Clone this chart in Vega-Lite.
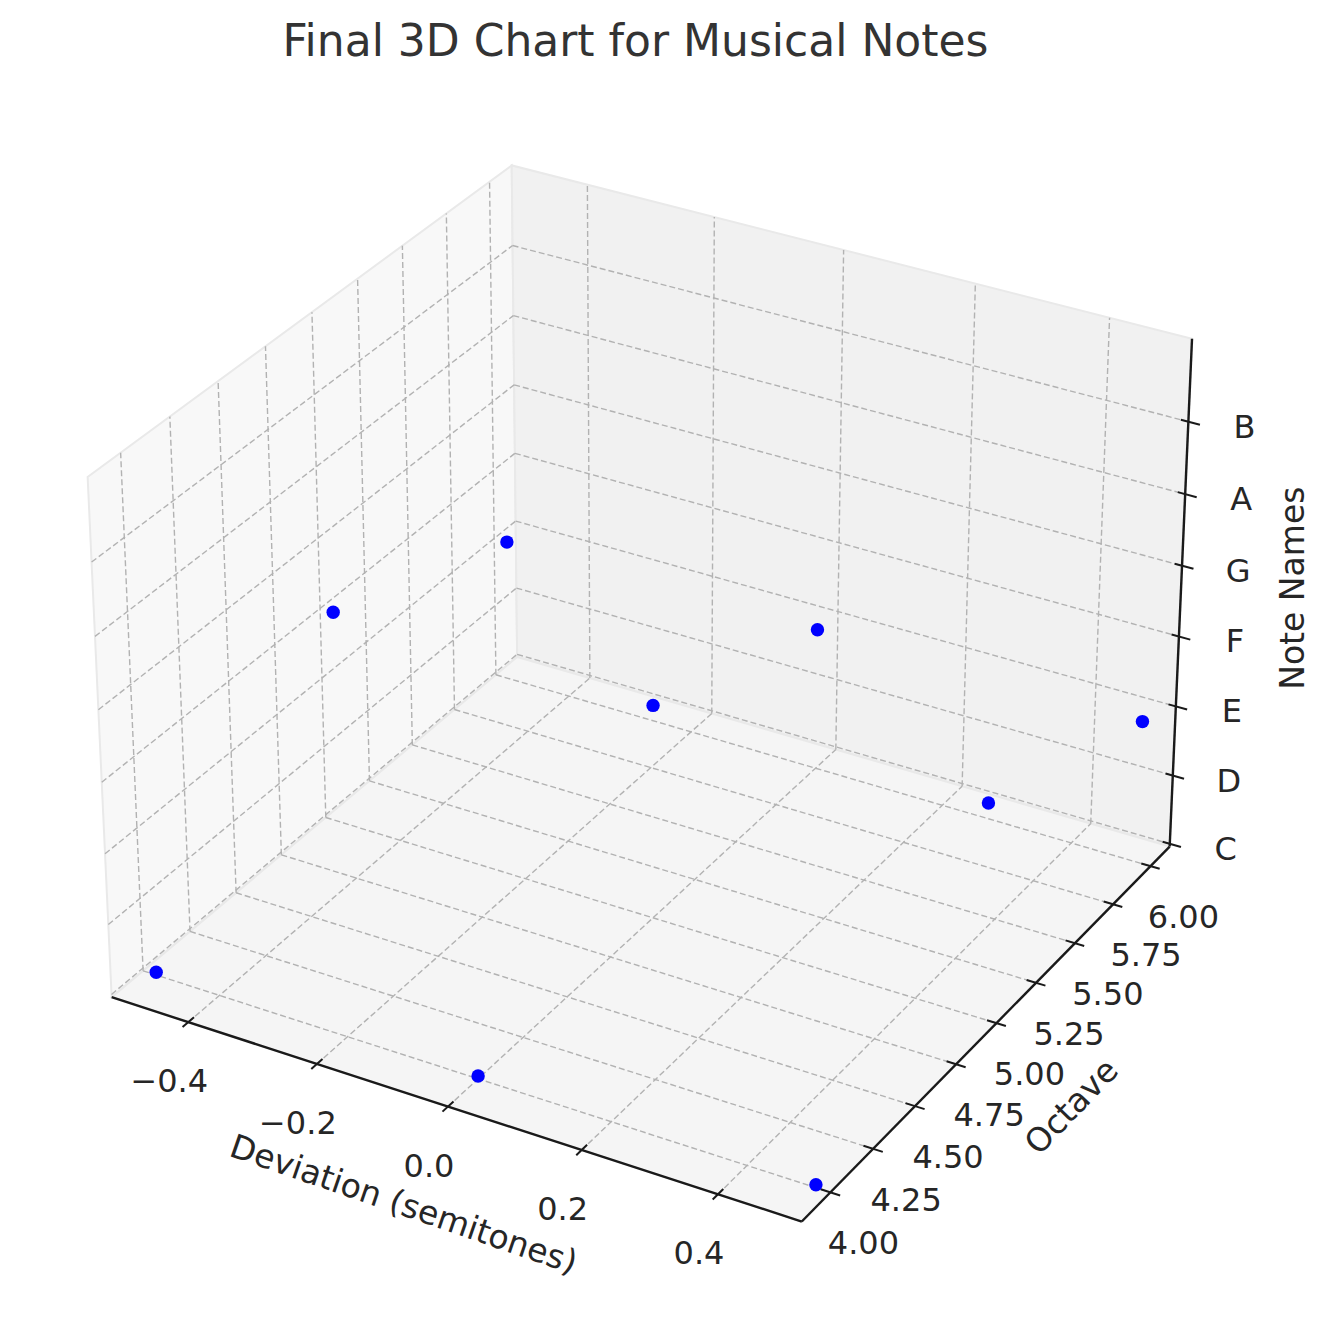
{
  "$schema": "https://vega.github.io/schema/vega-lite/v6.json",
  "width": 1337,
  "height": 1242,
  "autosize": {"type": "none"},
  "padding": {"left": 0, "right": 0, "top": 80, "bottom": 0},
  "background": "white",
  "title": {
    "text": "Final 3D Chart for Musical Notes",
    "font": "DejaVu Sans",
    "fontSize": 44,
    "fontWeight": "normal",
    "color": "#333333",
    "anchor": "middle",
    "frame": "group",
    "baseline": "alphabetic",
    "offset": -20,
    "dx": -33
  },
  "data": {
    "values": [
      {"k": "pane", "g": "left", "i": 0, "dev": -0.521, "oct": 3.835, "note": -0.04},
      {"k": "pane", "g": "left", "i": 1, "dev": -0.521, "oct": 6.13, "note": -0.04},
      {"k": "pane", "g": "left", "i": 2, "dev": -0.521, "oct": 6.13, "note": 7.13},
      {"k": "pane", "g": "left", "i": 3, "dev": -0.521, "oct": 3.835, "note": 7.13},
      {"k": "pane", "g": "back", "i": 0, "dev": -0.521, "oct": 6.13, "note": -0.04},
      {"k": "pane", "g": "back", "i": 1, "dev": 0.521, "oct": 6.13, "note": -0.04},
      {"k": "pane", "g": "back", "i": 2, "dev": 0.521, "oct": 6.13, "note": 7.13},
      {"k": "pane", "g": "back", "i": 3, "dev": -0.521, "oct": 6.13, "note": 7.13},
      {"k": "pane", "g": "floor", "i": 0, "dev": -0.521, "oct": 3.835, "note": -0.04},
      {"k": "pane", "g": "floor", "i": 1, "dev": 0.521, "oct": 3.835, "note": -0.04},
      {"k": "pane", "g": "floor", "i": 2, "dev": 0.521, "oct": 6.13, "note": -0.04},
      {"k": "pane", "g": "floor", "i": 3, "dev": -0.521, "oct": 6.13, "note": -0.04},

      {"k": "grid", "dev": -0.521, "oct": 4, "note": -0.04, "dev2": -0.521, "oct2": 4, "note2": 7.13},
      {"k": "grid", "dev": -0.521, "oct": 4.25, "note": -0.04, "dev2": -0.521, "oct2": 4.25, "note2": 7.13},
      {"k": "grid", "dev": -0.521, "oct": 4.5, "note": -0.04, "dev2": -0.521, "oct2": 4.5, "note2": 7.13},
      {"k": "grid", "dev": -0.521, "oct": 4.75, "note": -0.04, "dev2": -0.521, "oct2": 4.75, "note2": 7.13},
      {"k": "grid", "dev": -0.521, "oct": 5, "note": -0.04, "dev2": -0.521, "oct2": 5, "note2": 7.13},
      {"k": "grid", "dev": -0.521, "oct": 5.25, "note": -0.04, "dev2": -0.521, "oct2": 5.25, "note2": 7.13},
      {"k": "grid", "dev": -0.521, "oct": 5.5, "note": -0.04, "dev2": -0.521, "oct2": 5.5, "note2": 7.13},
      {"k": "grid", "dev": -0.521, "oct": 5.75, "note": -0.04, "dev2": -0.521, "oct2": 5.75, "note2": 7.13},
      {"k": "grid", "dev": -0.521, "oct": 6, "note": -0.04, "dev2": -0.521, "oct2": 6, "note2": 7.13},
      {"k": "grid", "dev": -0.521, "oct": 3.835, "note": 0, "dev2": -0.521, "oct2": 6.13, "note2": 0},
      {"k": "grid", "dev": -0.521, "oct": 3.835, "note": 1, "dev2": -0.521, "oct2": 6.13, "note2": 1},
      {"k": "grid", "dev": -0.521, "oct": 3.835, "note": 2, "dev2": -0.521, "oct2": 6.13, "note2": 2},
      {"k": "grid", "dev": -0.521, "oct": 3.835, "note": 3, "dev2": -0.521, "oct2": 6.13, "note2": 3},
      {"k": "grid", "dev": -0.521, "oct": 3.835, "note": 4, "dev2": -0.521, "oct2": 6.13, "note2": 4},
      {"k": "grid", "dev": -0.521, "oct": 3.835, "note": 5, "dev2": -0.521, "oct2": 6.13, "note2": 5},
      {"k": "grid", "dev": -0.521, "oct": 3.835, "note": 6, "dev2": -0.521, "oct2": 6.13, "note2": 6},
      {"k": "grid", "dev": -0.4, "oct": 6.13, "note": -0.04, "dev2": -0.4, "oct2": 6.13, "note2": 7.13},
      {"k": "grid", "dev": -0.2, "oct": 6.13, "note": -0.04, "dev2": -0.2, "oct2": 6.13, "note2": 7.13},
      {"k": "grid", "dev": 0, "oct": 6.13, "note": -0.04, "dev2": 0, "oct2": 6.13, "note2": 7.13},
      {"k": "grid", "dev": 0.2, "oct": 6.13, "note": -0.04, "dev2": 0.2, "oct2": 6.13, "note2": 7.13},
      {"k": "grid", "dev": 0.4, "oct": 6.13, "note": -0.04, "dev2": 0.4, "oct2": 6.13, "note2": 7.13},
      {"k": "grid", "dev": -0.521, "oct": 6.13, "note": 0, "dev2": 0.521, "oct2": 6.13, "note2": 0},
      {"k": "grid", "dev": -0.521, "oct": 6.13, "note": 1, "dev2": 0.521, "oct2": 6.13, "note2": 1},
      {"k": "grid", "dev": -0.521, "oct": 6.13, "note": 2, "dev2": 0.521, "oct2": 6.13, "note2": 2},
      {"k": "grid", "dev": -0.521, "oct": 6.13, "note": 3, "dev2": 0.521, "oct2": 6.13, "note2": 3},
      {"k": "grid", "dev": -0.521, "oct": 6.13, "note": 4, "dev2": 0.521, "oct2": 6.13, "note2": 4},
      {"k": "grid", "dev": -0.521, "oct": 6.13, "note": 5, "dev2": 0.521, "oct2": 6.13, "note2": 5},
      {"k": "grid", "dev": -0.521, "oct": 6.13, "note": 6, "dev2": 0.521, "oct2": 6.13, "note2": 6},
      {"k": "grid", "dev": -0.4, "oct": 3.835, "note": -0.04, "dev2": -0.4, "oct2": 6.13, "note2": -0.04},
      {"k": "grid", "dev": -0.2, "oct": 3.835, "note": -0.04, "dev2": -0.2, "oct2": 6.13, "note2": -0.04},
      {"k": "grid", "dev": 0, "oct": 3.835, "note": -0.04, "dev2": 0, "oct2": 6.13, "note2": -0.04},
      {"k": "grid", "dev": 0.2, "oct": 3.835, "note": -0.04, "dev2": 0.2, "oct2": 6.13, "note2": -0.04},
      {"k": "grid", "dev": 0.4, "oct": 3.835, "note": -0.04, "dev2": 0.4, "oct2": 6.13, "note2": -0.04},
      {"k": "grid", "dev": -0.521, "oct": 4, "note": -0.04, "dev2": 0.521, "oct2": 4, "note2": -0.04},
      {"k": "grid", "dev": -0.521, "oct": 4.25, "note": -0.04, "dev2": 0.521, "oct2": 4.25, "note2": -0.04},
      {"k": "grid", "dev": -0.521, "oct": 4.5, "note": -0.04, "dev2": 0.521, "oct2": 4.5, "note2": -0.04},
      {"k": "grid", "dev": -0.521, "oct": 4.75, "note": -0.04, "dev2": 0.521, "oct2": 4.75, "note2": -0.04},
      {"k": "grid", "dev": -0.521, "oct": 5, "note": -0.04, "dev2": 0.521, "oct2": 5, "note2": -0.04},
      {"k": "grid", "dev": -0.521, "oct": 5.25, "note": -0.04, "dev2": 0.521, "oct2": 5.25, "note2": -0.04},
      {"k": "grid", "dev": -0.521, "oct": 5.5, "note": -0.04, "dev2": 0.521, "oct2": 5.5, "note2": -0.04},
      {"k": "grid", "dev": -0.521, "oct": 5.75, "note": -0.04, "dev2": 0.521, "oct2": 5.75, "note2": -0.04},
      {"k": "grid", "dev": -0.521, "oct": 6, "note": -0.04, "dev2": 0.521, "oct2": 6, "note2": -0.04},

      {"k": "axis", "dev": -0.521, "oct": 3.835, "note": -0.04, "dev2": 0.521, "oct2": 3.835, "note2": -0.04},
      {"k": "axis", "dev": 0.521, "oct": 3.835, "note": -0.04, "dev2": 0.521, "oct2": 6.13, "note2": -0.04},
      {"k": "axis", "dev": 0.521, "oct": 6.13, "note": -0.04, "dev2": 0.521, "oct2": 6.13, "note2": 7.13},

      {"k": "tick", "dev": -0.4, "oct": 3.805, "note": -0.04, "dev2": -0.4, "oct2": 3.865, "note2": -0.04},
      {"k": "tick", "dev": -0.2, "oct": 3.805, "note": -0.04, "dev2": -0.2, "oct2": 3.865, "note2": -0.04},
      {"k": "tick", "dev": 0, "oct": 3.805, "note": -0.04, "dev2": 0, "oct2": 3.865, "note2": -0.04},
      {"k": "tick", "dev": 0.2, "oct": 3.805, "note": -0.04, "dev2": 0.2, "oct2": 3.865, "note2": -0.04},
      {"k": "tick", "dev": 0.4, "oct": 3.805, "note": -0.04, "dev2": 0.4, "oct2": 3.865, "note2": -0.04},
      {"k": "tick", "dev": 0.507, "oct": 4, "note": -0.04, "dev2": 0.535, "oct2": 4, "note2": -0.04},
      {"k": "tick", "dev": 0.507, "oct": 4.25, "note": -0.04, "dev2": 0.535, "oct2": 4.25, "note2": -0.04},
      {"k": "tick", "dev": 0.507, "oct": 4.5, "note": -0.04, "dev2": 0.535, "oct2": 4.5, "note2": -0.04},
      {"k": "tick", "dev": 0.507, "oct": 4.75, "note": -0.04, "dev2": 0.535, "oct2": 4.75, "note2": -0.04},
      {"k": "tick", "dev": 0.507, "oct": 5, "note": -0.04, "dev2": 0.535, "oct2": 5, "note2": -0.04},
      {"k": "tick", "dev": 0.507, "oct": 5.25, "note": -0.04, "dev2": 0.535, "oct2": 5.25, "note2": -0.04},
      {"k": "tick", "dev": 0.507, "oct": 5.5, "note": -0.04, "dev2": 0.535, "oct2": 5.5, "note2": -0.04},
      {"k": "tick", "dev": 0.507, "oct": 5.75, "note": -0.04, "dev2": 0.535, "oct2": 5.75, "note2": -0.04},
      {"k": "tick", "dev": 0.507, "oct": 6, "note": -0.04, "dev2": 0.535, "oct2": 6, "note2": -0.04},
      {"k": "tick", "dev": 0.51, "oct": 6.13, "note": 0, "dev2": 0.538, "oct2": 6.13, "note2": 0},
      {"k": "tick", "dev": 0.51, "oct": 6.13, "note": 1, "dev2": 0.538, "oct2": 6.13, "note2": 1},
      {"k": "tick", "dev": 0.51, "oct": 6.13, "note": 2, "dev2": 0.538, "oct2": 6.13, "note2": 2},
      {"k": "tick", "dev": 0.51, "oct": 6.13, "note": 3, "dev2": 0.538, "oct2": 6.13, "note2": 3},
      {"k": "tick", "dev": 0.51, "oct": 6.13, "note": 4, "dev2": 0.538, "oct2": 6.13, "note2": 4},
      {"k": "tick", "dev": 0.51, "oct": 6.13, "note": 5, "dev2": 0.538, "oct2": 6.13, "note2": 5},
      {"k": "tick", "dev": 0.51, "oct": 6.13, "note": 6, "dev2": 0.538, "oct2": 6.13, "note2": 6},

      {"k": "xlab", "dev": -0.4, "oct": 3.835, "note": -0.04, "lab": "−0.4"},
      {"k": "xlab", "dev": -0.2, "oct": 3.835, "note": -0.04, "lab": "−0.2"},
      {"k": "xlab", "dev": 0, "oct": 3.835, "note": -0.04, "lab": "0.0"},
      {"k": "xlab", "dev": 0.2, "oct": 3.835, "note": -0.04, "lab": "0.2"},
      {"k": "xlab", "dev": 0.4, "oct": 3.835, "note": -0.04, "lab": "0.4"},
      {"k": "ylab", "dev": 0.521, "oct": 4, "note": -0.04, "lab": "4.00"},
      {"k": "ylab", "dev": 0.521, "oct": 4.25, "note": -0.04, "lab": "4.25"},
      {"k": "ylab", "dev": 0.521, "oct": 4.5, "note": -0.04, "lab": "4.50"},
      {"k": "ylab", "dev": 0.521, "oct": 4.75, "note": -0.04, "lab": "4.75"},
      {"k": "ylab", "dev": 0.521, "oct": 5, "note": -0.04, "lab": "5.00"},
      {"k": "ylab", "dev": 0.521, "oct": 5.25, "note": -0.04, "lab": "5.25"},
      {"k": "ylab", "dev": 0.521, "oct": 5.5, "note": -0.04, "lab": "5.50"},
      {"k": "ylab", "dev": 0.521, "oct": 5.75, "note": -0.04, "lab": "5.75"},
      {"k": "ylab", "dev": 0.521, "oct": 6, "note": -0.04, "lab": "6.00"},
      {"k": "zlab", "dev": 0.521, "oct": 6.13, "note": 0, "lab": "C"},
      {"k": "zlab", "dev": 0.521, "oct": 6.13, "note": 1, "lab": "D"},
      {"k": "zlab", "dev": 0.521, "oct": 6.13, "note": 2, "lab": "E"},
      {"k": "zlab", "dev": 0.521, "oct": 6.13, "note": 3, "lab": "F"},
      {"k": "zlab", "dev": 0.521, "oct": 6.13, "note": 4, "lab": "G"},
      {"k": "zlab", "dev": 0.521, "oct": 6.13, "note": 5, "lab": "A"},
      {"k": "zlab", "dev": 0.521, "oct": 6.13, "note": 6, "lab": "B"},

      {"k": "xt", "dev": 0, "oct": 3.835, "note": -0.04, "lab": "Deviation (semitones)"},
      {"k": "yt", "dev": 0.521, "oct": 5, "note": -0.04, "lab": "Octave"},
      {"k": "zt", "dev": 0.521, "oct": 6.13, "note": 3.5, "lab": "Note Names"},

      {"k": "pt", "name": "C", "dev": -0.5, "oct": 4, "note": 0},
      {"k": "pt", "name": "C", "dev": 0, "oct": 4, "note": 0},
      {"k": "pt", "name": "C", "dev": 0.5, "oct": 4, "note": 0},
      {"k": "pt", "name": "F", "dev": -0.5, "oct": 5, "note": 3},
      {"k": "pt", "name": "F", "dev": 0, "oct": 5, "note": 3},
      {"k": "pt", "name": "F", "dev": 0.5, "oct": 5, "note": 3},
      {"k": "pt", "name": "E", "dev": -0.5, "oct": 6, "note": 2},
      {"k": "pt", "name": "E", "dev": 0, "oct": 6, "note": 2},
      {"k": "pt", "name": "E", "dev": 0.5, "oct": 6, "note": 2}
    ]
  },
  "transform": [
    {"calculate": "(datum.dev + 0.521) / 1.042 * 1.1429 - 0.5714", "as": "qx"},
    {"calculate": "(datum.oct - 3.835) / 2.295 * 1.1429 - 0.5714", "as": "qy"},
    {"calculate": "(datum.note + 0.04) / 7.17 * 0.8572 - 0.4286", "as": "qz"},
    {"calculate": "10 - 0.433 * datum.qx + 0.75 * datum.qy - 0.5 * datum.qz", "as": "dz"},
    {"calculate": "(0.866 * datum.qx + 0.5 * datum.qy) / datum.dz", "as": "sx"},
    {"calculate": "(-0.25 * datum.qx + 0.433 * datum.qy + 0.866 * datum.qz) / datum.dz", "as": "sy"},
    {"calculate": "(datum.dev2 + 0.521) / 1.042 * 1.1429 - 0.5714", "as": "qx2"},
    {"calculate": "(datum.oct2 - 3.835) / 2.295 * 1.1429 - 0.5714", "as": "qy2"},
    {"calculate": "(datum.note2 + 0.04) / 7.17 * 0.8572 - 0.4286", "as": "qz2"},
    {"calculate": "10 - 0.433 * datum.qx2 + 0.75 * datum.qy2 - 0.5 * datum.qz2", "as": "dz2"},
    {"calculate": "(0.866 * datum.qx2 + 0.5 * datum.qy2) / datum.dz2", "as": "sx2"},
    {"calculate": "(-0.25 * datum.qx2 + 0.433 * datum.qy2 + 0.866 * datum.qz2) / datum.dz2", "as": "sy2"}
  ],
  "encoding": {
    "x": {"field": "sx", "type": "quantitative", "scale": {"domain": [-0.093931, 0.099277], "nice": false, "zero": false}, "axis": null},
    "y": {"field": "sy", "type": "quantitative", "scale": {"domain": [-0.09435, 0.08513], "nice": false, "zero": false}, "axis": null}
  },
  "layer": [
    {
      "transform": [{"filter": "datum.k == 'pane'"}],
      "mark": {"type": "line", "interpolate": "linear-closed", "stroke": "#e9e9e9", "strokeWidth": 2},
      "encoding": {
        "detail": {"field": "g"},
        "order": {"field": "i", "type": "quantitative"},
        "fill": {"field": "g", "type": "nominal", "scale": {"domain": ["left", "back", "floor"], "range": ["#f8f8f8", "#f1f1f1", "#f5f5f5"]}, "legend": null}
      }
    },
    {
      "transform": [{"filter": "datum.k == 'grid'"}],
      "mark": {"type": "rule", "color": "#b2b2b2", "strokeWidth": 1.4, "strokeDash": [6, 3]},
      "encoding": {"x2": {"field": "sx2"}, "y2": {"field": "sy2"}}
    },
    {
      "transform": [{"filter": "datum.k == 'axis'"}],
      "mark": {"type": "rule", "color": "#1a1a1a", "strokeWidth": 2.4},
      "encoding": {"x2": {"field": "sx2"}, "y2": {"field": "sy2"}}
    },
    {
      "transform": [{"filter": "datum.k == 'tick'"}],
      "mark": {"type": "rule", "color": "#1a1a1a", "strokeWidth": 2},
      "encoding": {"x2": {"field": "sx2"}, "y2": {"field": "sy2"}}
    },
    {
      "transform": [{"filter": "datum.k == 'xlab'"}],
      "mark": {"type": "text", "font": "DejaVu Sans", "fontSize": 32, "color": "#262626", "align": "center", "baseline": "middle", "dx": -19, "dy": 60},
      "encoding": {"text": {"field": "lab"}}
    },
    {
      "transform": [{"filter": "datum.k == 'ylab'"}],
      "mark": {"type": "text", "font": "DejaVu Sans", "fontSize": 32, "color": "#262626", "align": "center", "baseline": "middle", "dx": 33, "dy": 52},
      "encoding": {"text": {"field": "lab"}}
    },
    {
      "transform": [{"filter": "datum.k == 'zlab'"}],
      "mark": {"type": "text", "font": "DejaVu Sans", "fontSize": 32, "color": "#262626", "align": "center", "baseline": "middle", "dx": 56, "dy": 6},
      "encoding": {"text": {"field": "lab"}}
    },
    {
      "transform": [{"filter": "datum.k == 'xt'"}],
      "mark": {"type": "text", "font": "DejaVu Sans", "fontSize": 33, "color": "#262626", "align": "center", "baseline": "middle", "angle": 19, "dx": -10, "dy": 108},
      "encoding": {"text": {"field": "lab"}}
    },
    {
      "transform": [{"filter": "datum.k == 'yt'"}],
      "mark": {"type": "text", "font": "DejaVu Sans", "fontSize": 33, "color": "#262626", "align": "center", "baseline": "middle", "angle": -46, "dx": -8, "dy": 113},
      "encoding": {"text": {"field": "lab"}}
    },
    {
      "transform": [{"filter": "datum.k == 'zt'"}],
      "mark": {"type": "text", "font": "DejaVu Sans", "fontSize": 33, "color": "#262626", "align": "center", "baseline": "middle", "angle": -90, "dx": 13, "dy": 114},
      "encoding": {"text": {"field": "lab"}}
    },
    {
      "transform": [{"filter": "datum.k == 'pt'"}],
      "mark": {"type": "circle", "color": "#0000ff", "opacity": 1, "size": 180},
      "encoding": {}
    }
  ],
  "config": {"view": {"stroke": null}}
}
